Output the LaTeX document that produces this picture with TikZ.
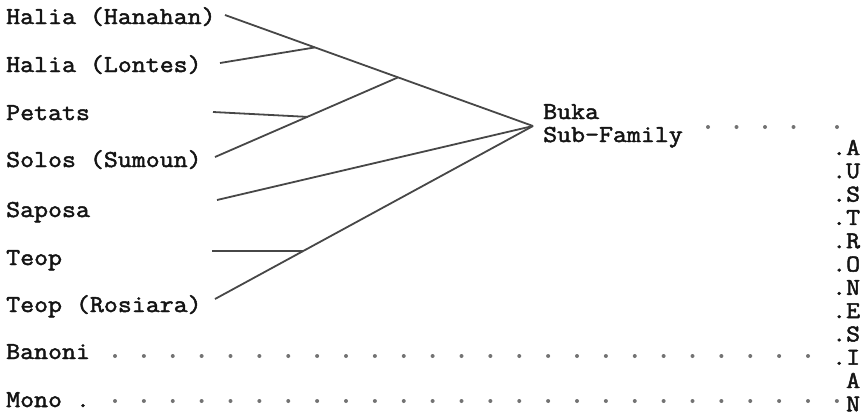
\documentclass[tikz,border=0pt]{standalone}
\usepackage{fontspec}
\newfontfamily\tw{Latin Modern Mono}[FakeBold=2,FakeStretch=1.12]
\begin{document}
\begin{tikzpicture}[x=1pt,y=-1pt,
  lbl/.style={anchor=base west,inner sep=0pt,font=\tw\fontsize{24.2pt}{28pt}\selectfont,text=black!92},
  col/.style={lbl},
  branch/.style={draw=black!72,line width=1.8pt},
  dotrow/.style={draw=black!55,line width=4pt,line cap=round,dash pattern=on 0pt off 28.875pt}]
\useasboundingbox (0,0) rectangle (863,416);
% language labels
\node[lbl] (hanahan) at (6,24) {Halia (Hanahan)};
\node[lbl] (lontes)  at (6,72) {Halia (Lontes)};
\node[lbl] (petats)  at (6,120) {Petats};
\node[lbl] (solos)   at (6,167) {Solos (Sumoun)};
\node[lbl] (saposa)  at (6,217) {Saposa};
\node[lbl] (teop)    at (6,265) {Teop};
\node[lbl] (rosiara) at (6,312) {Teop (Rosiara)};
\node[lbl] (banoni)  at (6,359) {Banoni};
\node[lbl] (mono)    at (6,407) {Mono .};
\node[lbl] (buka)    at (543,119) {Buka};
\node[lbl] (subfam)  at (543,142) {Sub-Family};
% vertical AUSTRONESIAN
\node[col] (cA1) at (832,155) {.A};
\node[col] (cU)  at (832,178.3) {.U};
\node[col] (cS1) at (832,201.6) {.S};
\node[col] (cT)  at (832,224.9) {.T};
\node[col] (cR)  at (832,248.2) {.R};
\node[col] (cO)  at (832,271.5) {.O};
\node[col] (cN1) at (832,294.8) {.N};
\node[col] (cE)  at (832,318.1) {.E};
\node[col] (cS2) at (832,341.4) {.S};
\node[col] (cI)  at (832,364.7) {.I};
\node[col] (cA2) at (832,388) {\phantom{.}A};
\node[col] (cN2) at (832,411.3) {\phantom{.}N};
% tree coordinates
\coordinate (sH) at (225,15);
\coordinate (sL) at (220,63);
\coordinate (sP) at (213,112);
\coordinate (sS) at (215,157);
\coordinate (sSa) at (217,200);
\coordinate (sT) at (212,251);
\coordinate (sR) at (215,299);
\coordinate (root) at (533,126);
\coordinate (j1) at (315,47.4);
\coordinate (j2) at (398,77.4);
\coordinate (j3) at (308,116.9);
\coordinate (j4) at (303,251.1);
\draw[branch] (sH) -- (root);
\draw[branch] (sL) -- (j1);
\draw[branch] (sS) -- (j2);
\draw[branch] (sP) -- (j3);
\draw[branch] (sSa) -- (root);
\draw[branch] (sR) -- (root);
\draw[branch] (sT) -- (j4);
% dotted rows
\coordinate (bd0) at (115,356);
\coordinate (bd1) at (809,356);
\coordinate (md0) at (115,401);
\coordinate (md1) at (838,401);
\draw[dotrow] (bd0) -- (bd1);
\draw[dotrow] (md0) -- (md1);
\coordinate (sd0) at (708,127);
\coordinate (sd1) at (794,127);
\coordinate (sd2) at (837,127);
\draw[dotrow,dash pattern=on 0pt off 28.5pt] (sd0) -- (sd1);
\fill[black!55] (sd2) circle (2pt);
\end{tikzpicture}
\end{document}
